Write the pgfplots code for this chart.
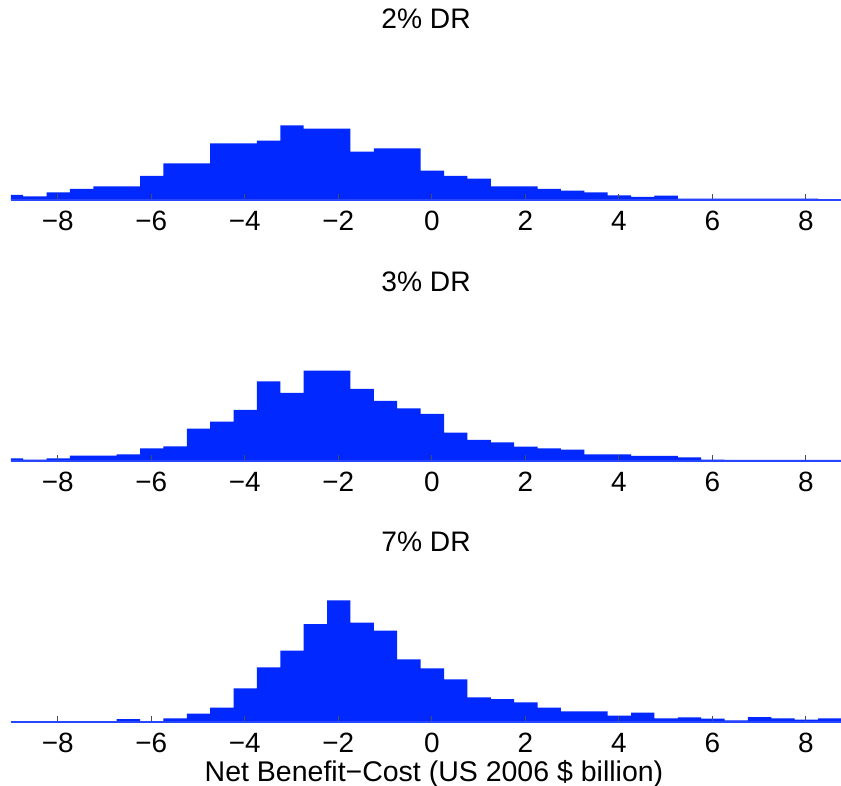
\documentclass[border=0pt]{standalone}
\usepackage{pgfplots}
\pgfplotsset{compat=1.18}
\usepackage{fontspec}
\setmainfont{Liberation Sans}
\definecolor{histblue}{RGB}{0,40,255}
\definecolor{axblue}{RGB}{40,70,255}
\pgfplotsset{
  hist/.style={
    scale only axis, width=830bp, height=160bp,
    anchor=south west,
    xmin=-9, xmax=8.75, ymin=0, ymax=160,
    enlargelimits=false,
    axis on top,
    axis x line=bottom, axis y line=none,
    x axis line style={draw=axblue, line width=1.5bp, -},
    xtick={-8,-6,-4,-2,0,2,4,6,8},
    xticklabels={−8,−6,−4,−2,0,2,4,6,8},
    xtick align=inside,
    major tick length=6bp,
    tick style={draw=gray!60!black, line width=0.9bp},
    xticklabel style={font=\fontsize{28}{30}\selectfont, anchor=base, yshift=-30.7bp},
    title style={font=\fontsize{28.3}{30}\selectfont, anchor=center, at={(0.5,1)}},
    ytick=\empty,
  }
}
\begin{document}
\begin{tikzpicture}
\useasboundingbox (0,0) rectangle (841bp,786bp);
% 2% DR
\begin{axis}[hist, at={(11bp,586bp)}, title={2\% DR}, title style={yshift=15.5bp}]
\addplot[ybar interval, fill=histblue, draw=none] coordinates {
(-9.24,5) (-8.74,3.5) (-8.24,7.7) (-7.74,11) (-7.24,13.7) (-6.74,13.7)
(-6.24,24) (-5.74,36.7) (-5.24,36.7) (-4.74,56.7) (-4.24,56.7) (-3.74,59.3)
(-3.24,74.7) (-2.74,71.3) (-2.24,71.3) (-1.74,48.3) (-1.24,51.7) (-0.74,51.7)
(-0.24,29.3) (0.26,24) (0.76,21.3) (1.26,13.7) (1.76,13.7) (2.26,11)
(2.76,9.3) (3.26,7.7) (3.76,4.7) (4.26,3) (4.76,4.3) (5.26,1.3)
(5.76,1.3) (6.26,1.3) (6.76,1.3) (7.26,1.3) (7.76,1.3) (8.26,0.5)
(8.76,0)
};
\end{axis}
% 3% DR
\begin{axis}[hist, at={(11bp,325bp)}, title={3\% DR}, title style={yshift=13.5bp}]
\addplot[ybar interval, fill=histblue, draw=none] coordinates {
(-9.24,2.7) (-8.74,1.3) (-8.24,2.7) (-7.74,5.3) (-7.24,5.3) (-6.74,6.7)
(-6.24,12.7) (-5.74,14.7) (-5.24,32.3) (-4.74,39.3) (-4.24,51) (-3.74,79.7)
(-3.24,68) (-2.74,90.3) (-2.24,90.3) (-1.74,72) (-1.24,60) (-0.74,52.7)
(-0.24,47) (0.26,28.3) (0.76,21) (1.26,18.7) (1.76,14.3) (2.26,12.7)
(2.76,11.3) (3.26,6.7) (3.76,6.7) (4.26,5) (4.76,5) (5.26,3.7)
(5.76,1.3) (6.26,1) (6.76,1) (7.26,1) (7.76,1) (8.26,1)
(8.76,0)
};
\end{axis}
% 7% DR
\begin{axis}[hist, at={(11bp,64bp)}, title={7\% DR}, title style={yshift=14bp},
  xlabel={Net Benefit−Cost (US 2006 \$ billion)},
  xlabel style={font=\fontsize{28.6}{30}\selectfont, at={(axis description cs:0.5,0)}, anchor=base, yshift=-59.5bp, xshift=8bp}]
\addplot[ybar interval, fill=histblue, draw=none] coordinates {
(-9.24,0.7) (-8.74,0.7) (-8.24,0.7) (-7.74,0.7) (-7.24,0.7) (-6.74,3)
(-6.24,1) (-5.74,3.7) (-5.24,8.3) (-4.74,14.3) (-4.24,33.7) (-3.74,54.7)
(-3.24,71.3) (-2.74,98) (-2.24,121.7) (-1.74,99.3) (-1.24,91.3) (-0.74,62.7)
(-0.24,53.7) (0.26,42.7) (0.76,24.7) (1.26,23) (1.76,19.7) (2.26,14.3)
(2.76,10.7) (3.26,10.7) (3.76,6.3) (4.26,9.3) (4.76,3.7) (5.26,4.7)
(5.76,3.3) (6.26,1.7) (6.76,5) (7.26,3.7) (7.76,2.3) (8.26,3.7)
(8.76,0)
};
\end{axis}
\end{tikzpicture}
\end{document}
